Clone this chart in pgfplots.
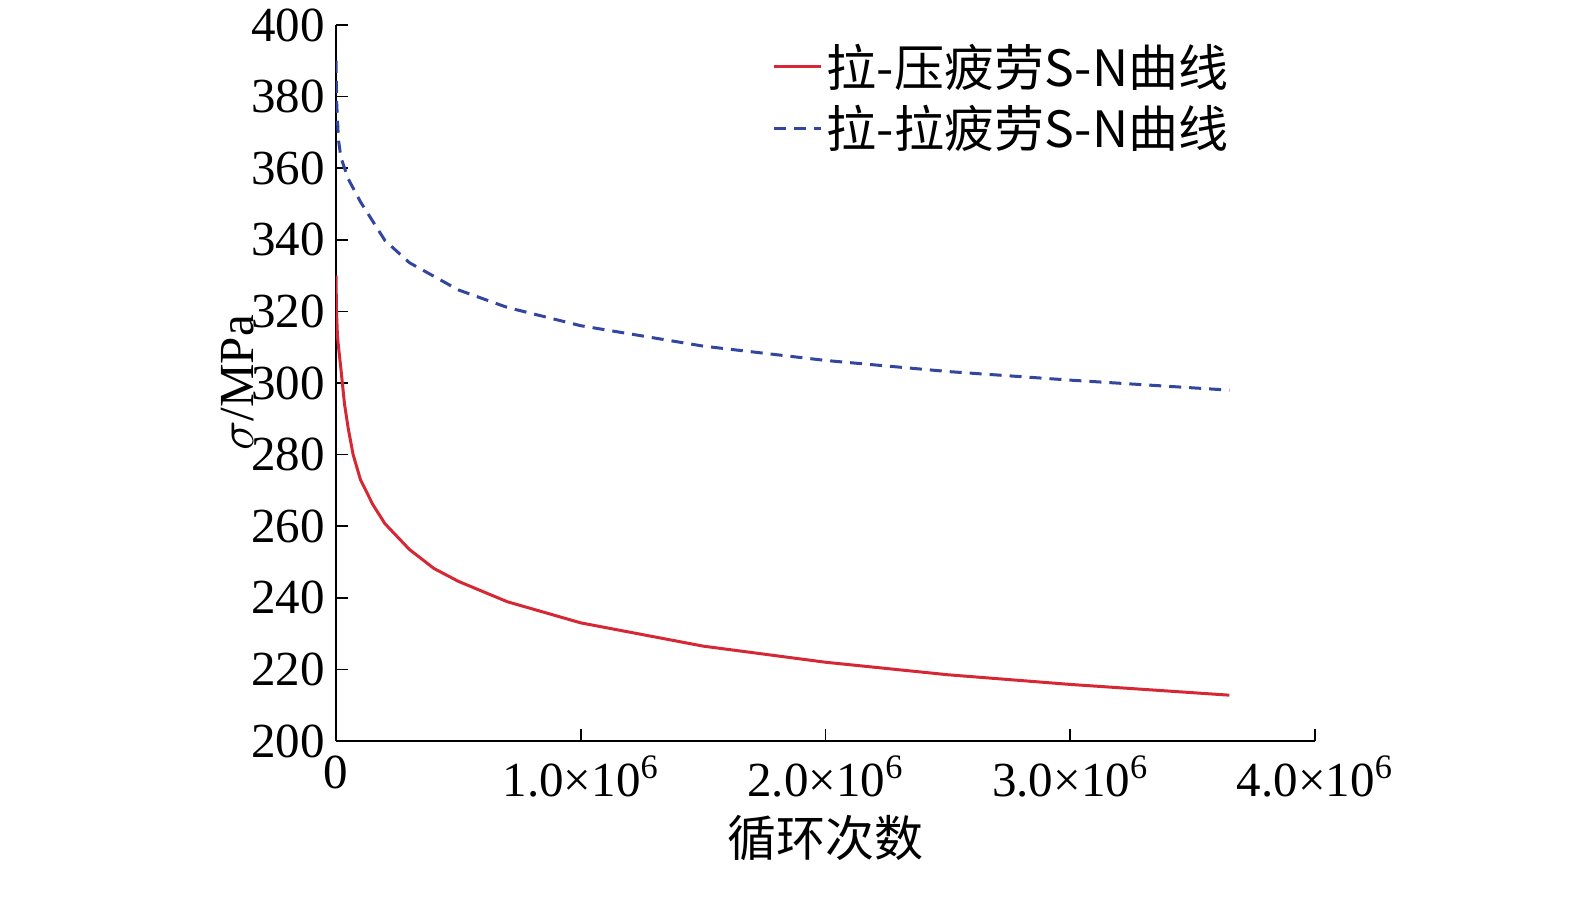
\documentclass[border=0pt]{standalone}
\usepackage{pgfplots}
\pgfplotsset{compat=1.18}
\usepackage{fontspec}
\setmainfont{Liberation Serif}
\newfontfamily\cjk{Noto Sans CJK SC}
\begin{document}
\begin{tikzpicture}
\begin{axis}[name=ax,scale only axis,width=489.5pt,height=358pt,
 xmin=0,xmax=4e6,ymin=200,ymax=400,
 axis lines=left, axis line style={-,line width=0.8pt},
 tick style={black,line width=0.8pt}, tick align=inside, major tick length=6pt,
 xtick={0,1e6,2e6,3e6,4e6},
 xticklabels={0,1.0×10\textsuperscript{6},2.0×10\textsuperscript{6},3.0×10\textsuperscript{6},4.0×10\textsuperscript{6}},
 ytick={200,220,...,400},
 scaled x ticks=false,
 /pgf/number format/assume math mode=true,
 ticklabel style={font=\fontsize{24.5}{28}\selectfont},
 xticklabel style={yshift=-4pt},
 yticklabel style={xshift=-2pt},
 xlabel={\cjk 循环次数}, ylabel={$\sigma$/MPa},
 label style={font=\fontsize{24.5}{28}\selectfont},
 xlabel style={yshift=-2pt}, ylabel style={yshift=-8pt},
 legend style={draw=none,fill=none,at={(0.922,0.985)},anchor=north east,font=\cjk\fontsize{25}{29}\selectfont,row sep=4pt},
 legend cell align=left,
 legend image post style={xscale=1.4},
]
\addplot[color={rgb,255:red,214;green,40;blue,52},line width=1.5pt] coordinates {
(0,330)(2e3,320)(6e3,313)(1.2e4,309)(2e4,304)(3.5e4,294)(5e4,287.3)(7e4,280)(1e5,273)(1.5e5,266.1)(2e5,260.7)(3e5,253.5)(4e5,248.2)(5e5,244.6)(7e5,238.9)(1e6,233)(1.5e6,226.5)(2e6,222)(2.5e6,218.5)(3e6,215.8)(3.65e6,212.8)};
\addlegendentry{拉-压疲劳S-N曲线}
\addplot[color={rgb,255:red,50;green,70;blue,160},line width=1.5pt,dash pattern=on 6pt off 4pt] coordinates {
(0,390)(3e3,378)(1e4,368)(2e4,363)(5e4,357)(1e5,350.6)(2e5,339.8)(3e5,333.6)(5e5,326)(7e5,321.1)(1e6,316)(1.5e6,310.3)(2e6,306.3)(2.5e6,303.2)(3e6,300.8)(3.65e6,298)};
\addlegendentry{拉-拉疲劳S-N曲线}
\end{axis}
\path[use as bounding box] ([shift={(-168pt,-78.5pt)}]ax.south west) rectangle ([shift={(619.5pt,370.5pt)}]ax.south west);
\end{tikzpicture}
\end{document}
